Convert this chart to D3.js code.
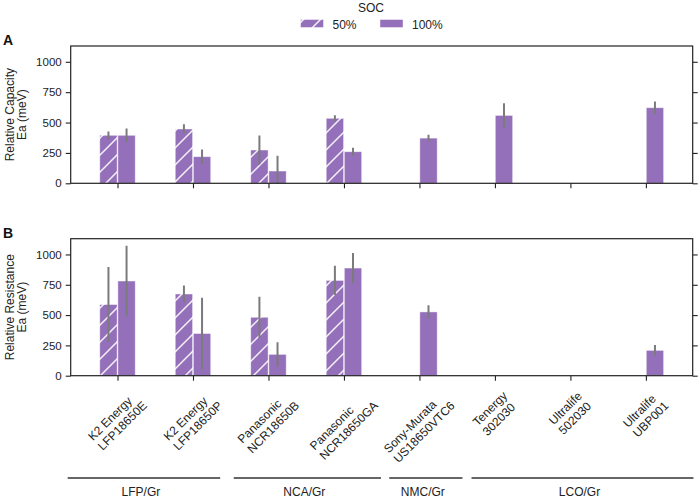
<!doctype html>
<html>
  <head>
    <meta charset="utf-8">
    <title>Relative Ea by cell and SOC</title>
    <script src="https://cdn.jsdelivr.net/npm/d3@7"></script>
    <style>
      body { margin: 0; background: #fff; }
      svg { display: block; font-family: "Liberation Sans", Arial, sans-serif; }
      .axis text { font-size: 11.5px; fill: #222; }
      .axis line { stroke: #222; stroke-width: 1.1; }
    </style>
  </head>
  <body>
    <svg id="chart" width="700" height="497"></svg>
<script>
// cells on the x axis (two-line labels)
var categories = [
  "K2 Energy\nLFP18650E", "K2 Energy\nLFP18650P", "Panasonic\nNCR18650B", "Panasonic\nNCR18650GA",
  "Sony-Murata\nUS18650VTC6", "Tenergy\n302030", "Ultralife\n502030", "Ultralife\nUBP001"
];
var socLevels = ["50%", "100%"];
var yTicks = [0, 250, 500, 750, 1000];

// panel A - relative capacity Ea (meV), null = not measured
var capacity50     = [395, 447, 274, 535, null, null, null, null];
var capacity50Err  = [32, 38, 120, 25, null, null, null, null];
var capacity100    = [395, 219, 101, 260, 372, 559, null, 622];
var capacity100Err = [55, 60, 125, 32, 28, 100, null, 52];

// panel B - relative resistance Ea (meV)
var resistance50     = [587, 674, 482, 786, null, null, null, null];
var resistance50Err  = [310, 70, 170, 120, null, null, null, null];
var resistance100    = [781, 348, 176, 888, 526, null, null, 209];
var resistance100Err = [290, 295, 100, 125, 55, null, null, 45];

// chemistry groups, spans given in category units
var groupNames = ["LFP/Gr", "NCA/Gr", "NMC/Gr", "LCO/Gr"];
var groupStart = [-0.66, 1.54, 3.6, 4.69];
var groupEnd   = [1.36, 3.49, 4.57, 7.63];

var purple = "#9570ba";
var fs = 12;
var svg = d3.select("#chart");

var panels = [
  { tag: "A", ylab: ["Relative Capacity", "Ea (meV)"], top: 46, bottom: 183.3,
    s50: capacity50, e50: capacity50Err, s100: capacity100, e100: capacity100Err, labels: false },
  { tag: "B", ylab: ["Relative Resistance", "Ea (meV)"], top: 238.7, bottom: 375.7,
    s50: resistance50, e50: resistance50Err, s100: resistance100, e100: resistance100Err, labels: true }
];

var left = 70.7, right = 692.7;
var x = d3.scalePoint().domain(d3.range(categories.length)).range([left, right]).padding(0.62);
var step = x.step();
var barW = step * 0.23;
var off = step * 0.12;
var catX = d3.scaleLinear().domain([0, 1]).range([x(0), x(0) + step]);

var defs = svg.append("defs");
var pat = defs.append("pattern").attr("id", "hatch")
  .attr("patternUnits", "userSpaceOnUse").attr("width", 17).attr("height", 17);
pat.append("rect").attr("width", 17).attr("height", 17).attr("fill", purple);
pat.append("path").attr("d", "M0,17L17,0M-4,4L4,-4M13,21L21,13")
  .attr("stroke", "#fff").attr("stroke-width", 1.5).attr("stroke-opacity", 0.9);

panels.forEach(function(p, pi) {
  var y = d3.scaleLinear().domain([0, 1130]).range([p.bottom, p.top]);
  var g = svg.append("g");

  defs.append("clipPath").attr("id", "clip" + pi).append("rect")
    .attr("x", left).attr("y", p.top).attr("width", right - left).attr("height", p.bottom - p.top);

  var series = [
    { vals: p.s50, errs: p.e50, dx: -off, fill: "url(#hatch)" },
    { vals: p.s100, errs: p.e100, dx: off, fill: purple }
  ];

  var plot = g.append("g").attr("clip-path", "url(#clip" + pi + ")");
  series.forEach(function(s) {
    var idx = d3.range(categories.length).filter(function(i) { return s.vals[i] != null; });
    plot.selectAll(null).data(idx).enter().append("rect")
      .attr("x", function(i) { return x(i) + s.dx - barW / 2; })
      .attr("y", function(i) { return y(s.vals[i]); })
      .attr("width", barW)
      .attr("height", function(i) { return y(0) - y(s.vals[i]); })
      .attr("fill", s.fill)
      .attr("stroke", "#fff").attr("stroke-opacity", 0.55).attr("stroke-width", 0.8);
  });
  series.forEach(function(s) {
    var idx = d3.range(categories.length).filter(function(i) { return s.vals[i] != null; });
    plot.selectAll(null).data(idx).enter().append("line")
      .attr("x1", function(i) { return x(i) + s.dx; })
      .attr("x2", function(i) { return x(i) + s.dx; })
      .attr("y1", function(i) { return y(s.vals[i] - s.errs[i]); })
      .attr("y2", function(i) { return y(s.vals[i] + s.errs[i]); })
      .attr("stroke", "#7b7b7b").attr("stroke-width", 2);
  });

  // axes
  var ax = g.append("g").attr("class", "axis").attr("transform", "translate(" + left + ",0)")
    .call(d3.axisLeft(y).tickValues(yTicks).tickSize(5).tickPadding(4).tickFormat(d3.format("d")));
  ax.select(".domain").remove();
  var axr = g.append("g").attr("class", "axis").attr("transform", "translate(" + right + ",0)")
    .call(d3.axisRight(y).tickValues(yTicks).tickSize(5).tickFormat(""));
  axr.select(".domain").remove();
  var axb = g.append("g").attr("class", "axis").attr("transform", "translate(0," + p.bottom + ")")
    .call(d3.axisBottom(x).tickSize(5).tickFormat(""));
  axb.select(".domain").remove();

  g.append("rect").attr("x", left).attr("y", p.top).attr("width", right - left)
    .attr("height", p.bottom - p.top).attr("fill", "none").attr("stroke", "#222").attr("stroke-width", 1.2);

  // y label, two lines
  var cy = (p.top + p.bottom) / 2;
  p.ylab.forEach(function(t, li) {
    g.append("text").attr("transform", "translate(" + (13.5 + li * 12.5) + "," + cy + ") rotate(-90)")
      .attr("text-anchor", "middle").attr("font-size", fs).attr("fill", "#222").text(t);
  });

  g.append("text").attr("x", 3).attr("y", p.top - 1).attr("font-size", 14)
    .attr("font-weight", "bold").attr("fill", "#111").text(p.tag);

  if (p.labels) {
    var svgRect = svg.node().getBoundingClientRect();
    categories.forEach(function(c, i) {
      var t = g.append("text").attr("font-size", fs).attr("fill", "#222")
        .attr("transform", "translate(0,0) rotate(-45)");
      c.split("\n").forEach(function(line, li) {
        t.append("tspan").attr("x", 0).attr("dy", li ? "1.15em" : 0).text(line);
      });
      var b = t.node().getBoundingClientRect();
      var dx = x(i) - (b.left + b.width / 2 - svgRect.left);
      var dy = (p.bottom + 13) - (b.top - svgRect.top);
      t.attr("transform", "translate(" + dx + "," + dy + ") rotate(-45)");
    });
  }
});

// chemistry group brackets
groupNames.forEach(function(n, i) {
  var x0 = catX(groupStart[i]), x1 = catX(groupEnd[i]);
  svg.append("line").attr("x1", x0).attr("x2", x1).attr("y1", 478).attr("y2", 478)
    .attr("stroke", "#666").attr("stroke-width", 1.8);
  svg.append("text").attr("x", (x0 + x1) / 2 - 3).attr("y", 495.5).attr("text-anchor", "middle")
    .attr("font-size", fs).attr("fill", "#222").text(n);
});

// legend
svg.append("text").attr("x", 371).attr("y", 11.5).attr("text-anchor", "middle")
  .attr("font-size", fs).attr("fill", "#222").text("SOC");
var legX = [300.5, 380];
socLevels.forEach(function(s, i) {
  svg.append("rect").attr("x", legX[i]).attr("y", 19.5).attr("width", 23).attr("height", 8)
    .attr("fill", i === 0 ? "url(#hatch)" : purple)
    .attr("stroke", "#fff").attr("stroke-opacity", 0.55).attr("stroke-width", 0.8);
  svg.append("text").attr("x", legX[i] + 32).attr("y", 28.5).attr("font-size", fs)
    .attr("fill", "#222").text(s);
});
</script>
  </body>
</html>
